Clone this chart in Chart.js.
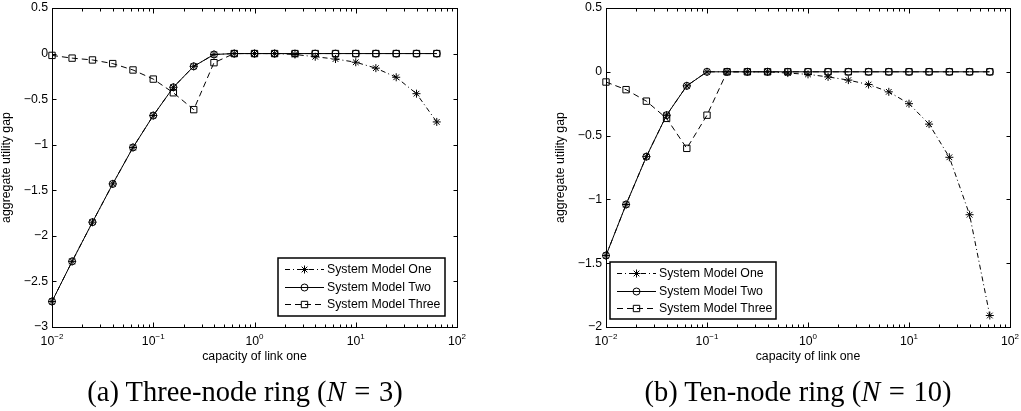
<!DOCTYPE html>
<html>
<head>
<meta charset="utf-8">
<script src="https://cdn.jsdelivr.net/npm/chart.js@4.4.1/dist/chart.umd.min.js"></script>
<style>
  body { margin: 0; background: #fff; width: 1021px; height: 411px; position: relative; overflow: hidden; }
  canvas { position: absolute; top: 0; }
  #chartA { left: 0; }
  #chartB { left: 510px; }
  .caption { position: absolute; top: 376px; font: 28.5px 'Liberation Serif', 'Times New Roman', serif; text-align: center; line-height: 32px; color: #000; white-space: nowrap; }
  .caption .eq { margin: 0 1.5px; }
</style>
</head>
<body>
<canvas id="chartA" width="510" height="411"></canvas>
<canvas id="chartB" width="511" height="411"></canvas>
<div class="caption" style="left:45px;width:400px">(a) Three-node ring (<i>N</i> <span class="eq">=</span> 3)</div>
<div class="caption" style="left:598px;width:400px">(b) Ten-node ring (<i>N</i> <span class="eq">=</span> 10)</div>
<script>
// capacity of link one, 5 points per decade
const capacity = [0.01, 0.0158, 0.0251, 0.0398, 0.0631, 0.1, 0.158, 0.251, 0.398, 0.631,
                  1, 1.58, 2.51, 3.98, 6.31, 10, 15.8, 25.1, 39.8, 63.1];

// (a) three-node ring
const oneThree   = [-2.72, -2.28, -1.85, -1.43, -1.03, -0.68, -0.37, -0.14, -0.01, 0,
                    0, 0, -0.01, -0.035, -0.06, -0.095, -0.16, -0.26, -0.44, -0.75];
const twoThree   = [-2.72, -2.28, -1.85, -1.43, -1.03, -0.68, -0.37, -0.14, -0.01, 0,
                    0, 0, 0, 0, 0, 0, 0, 0, 0, 0];
const threeThree = [-0.02, -0.05, -0.07, -0.11, -0.18, -0.28, -0.43, -0.615, -0.1, 0,
                    0, 0, 0, 0, 0, 0, 0, 0, 0, 0];

// (b) ten-node ring
const oneTen   = [-1.44, -1.04, -0.665, -0.34, -0.11, 0, 0, 0, 0, -0.01,
                  -0.02, -0.04, -0.065, -0.1, -0.157, -0.25, -0.41, -0.67, -1.12, -1.91];
const twoTen   = [-1.44, -1.04, -0.665, -0.34, -0.11, 0, 0, 0, 0, 0,
                  0, 0, 0, 0, 0, 0, 0, 0, 0, 0];
const threeTen = [-0.08, -0.14, -0.23, -0.365, -0.6, -0.34, 0, 0, 0, 0,
                  0, 0, 0, 0, 0, 0, 0, 0, 0, 0];

const seriesNames = ['System Model One', 'System Model Two', 'System Model Three'];
const yTicksThree = [0.5, 0, -0.5, -1, -1.5, -2, -2.5, -3];
const yTicksTen = [0.5, 0, -0.5, -1, -1.5, -2];
const xTickExps = [-2, -1, 0, 1, 2];
const xTitle = 'capacity of link one';
const yTitle = 'aggregate utility gap';

const FONT = "'Liberation Sans', Arial, Helvetica, sans-serif";
const FS = '12.3px ';

const seriesStyles = [
  { dash: [5, 3, 1, 3], point: 'star', radius: 4 },
  { dash: [], point: 'circle', radius: 3.5 },
  { dash: [6, 4], point: 'rect', radius: 4.5 }
];

function makeDatasets(seriesList) {
  return seriesList.map((vals, i) => ({
    label: seriesNames[i],
    data: capacity.map((c, j) => ({ x: c, y: vals[j] })),
    borderColor: '#000',
    borderWidth: 1,
    borderDash: seriesStyles[i].dash,
    pointStyle: seriesStyles[i].point,
    pointRadius: seriesStyles[i].radius,
    pointBorderColor: '#000',
    pointBackgroundColor: 'rgba(0,0,0,0)',
    pointBorderWidth: 1,
    tension: 0,
    fill: false,
    clip: false
  }));
}

function fmtY(v) {
  if (v === 0) return '0';
  return (v < 0 ? '\u2212' : '') + Math.abs(v);
}

// MATLAB-looking box, inward ticks, labels and legend
const matlabAxes = {
  id: 'matlabAxes',
  afterDatasetsDraw(chart, args, opts) {
    const ctx = chart.ctx;
    const area = chart.chartArea;
    const xs = chart.scales.x;
    const ys = chart.scales.y;
    ctx.save();
    ctx.strokeStyle = '#000';
    ctx.fillStyle = '#000';
    ctx.lineWidth = 1;
    ctx.setLineDash([]);

    const L = Math.round(area.left) + 0.5, R = Math.round(area.right) + 0.5;
    const T = Math.round(area.top) + 0.5, B = Math.round(area.bottom) + 0.5;
    ctx.strokeRect(L, T, R - L, B - T);

    // y ticks on both sides
    ctx.beginPath();
    opts.yTicks.forEach(v => {
      const y = Math.round(ys.getPixelForValue(v)) + 0.5;
      ctx.moveTo(L, y); ctx.lineTo(L + 4, y);
      ctx.moveTo(R, y); ctx.lineTo(R - 4, y);
    });
    // x ticks, major and minor, top and bottom
    for (let e = xTickExps[0]; e < xTickExps[xTickExps.length - 1]; e++) {
      for (let m = 1; m <= 9; m++) {
        const len = m === 1 ? 5 : 3;
        const x = Math.round(xs.getPixelForValue(m * Math.pow(10, e))) + 0.5;
        ctx.moveTo(x, B); ctx.lineTo(x, B - len);
        ctx.moveTo(x, T); ctx.lineTo(x, T + len);
      }
    }
    ctx.stroke();

    // y tick labels
    ctx.font = FS + FONT;
    ctx.textAlign = 'right';
    ctx.textBaseline = 'middle';
    opts.yTicks.forEach(v => {
      ctx.fillText(fmtY(v), area.left - 4, ys.getPixelForValue(v));
    });

    // x tick labels 10^e
    ctx.textBaseline = 'alphabetic';
    ctx.textAlign = 'left';
    xTickExps.forEach(e => {
      const x = xs.getPixelForValue(Math.pow(10, e));
      const exp = (e < 0 ? '\u2212' : '') + Math.abs(e);
      ctx.font = FS + FONT;
      const wBase = ctx.measureText('10').width;
      ctx.font = '8px ' + FONT;
      const wExp = ctx.measureText(exp).width;
      const x0 = x - (wBase + wExp) / 2;
      ctx.font = FS + FONT;
      ctx.fillText('10', x0, area.bottom + 18);
      ctx.font = '8px ' + FONT;
      ctx.fillText(exp, x0 + wBase, area.bottom + 11.5);
    });

    // axis titles
    ctx.font = FS + FONT;
    ctx.textAlign = 'center';
    ctx.fillText(xTitle, (area.left + area.right) / 2, area.bottom + 33);
    ctx.save();
    ctx.translate(opts.yTitleX, (area.top + area.bottom) / 2);
    ctx.rotate(-Math.PI / 2);
    ctx.textBaseline = 'middle';
    ctx.fillText(yTitle, 0, 0);
    ctx.restore();

    // legend
    const lg = opts.legend;
    ctx.fillStyle = '#fff';
    ctx.fillRect(lg.x, lg.y, lg.w, lg.h);
    ctx.lineWidth = 1.5;
    ctx.strokeRect(lg.x, lg.y, lg.w, lg.h);
    chart.data.datasets.forEach((ds, i) => {
      const y = Math.round(lg.y + 11 + i * 17.5) + 0.5;
      ctx.lineWidth = 1;
      ctx.strokeStyle = '#000';
      ctx.setLineDash(ds.borderDash);
      ctx.beginPath();
      ctx.moveTo(lg.x + 7, y);
      ctx.lineTo(lg.x + 46, y);
      ctx.stroke();
      ctx.setLineDash([]);
      ctx.fillStyle = 'rgba(0,0,0,0)';
      Chart.helpers.drawPoint(ctx, {
        pointStyle: ds.pointStyle, radius: ds.pointRadius, borderWidth: 1, rotation: 0
      }, lg.x + 26.5, y);
      ctx.fillStyle = '#000';
      ctx.font = FS + FONT;
      ctx.textAlign = 'left';
      ctx.textBaseline = 'middle';
      ctx.fillText(ds.label, lg.x + 49, y);
    });
    ctx.restore();
  }
};

function makeChart(id, seriesList, yMin, yTicks, padding, legend, yTitleX) {
  return new Chart(document.getElementById(id), {
    type: 'line',
    data: { datasets: makeDatasets(seriesList) },
    options: {
      responsive: false,
      devicePixelRatio: 1,
      animation: false,
      events: [],
      layout: { padding },
      scales: {
        x: { type: 'logarithmic', min: 0.01, max: 100, display: false },
        y: { type: 'linear', min: yMin, max: 0.5, display: false }
      },
      plugins: {
        legend: { display: false },
        tooltip: { enabled: false },
        matlabAxes: { yTicks, legend, yTitleX }
      }
    },
    plugins: [matlabAxes]
  });
}

makeChart('chartA', [oneThree, twoThree, threeThree], -3, yTicksThree,
  { left: 52, right: 53, top: 8, bottom: 84 },
  { x: 278, y: 258, w: 167, h: 58 }, 7);

makeChart('chartB', [oneTen, twoTen, threeTen], -2, yTicksTen,
  { left: 96, right: 11, top: 8, bottom: 84 },
  { x: 100, y: 262, w: 166, h: 57 }, 51);
</script>
</body>
</html>
